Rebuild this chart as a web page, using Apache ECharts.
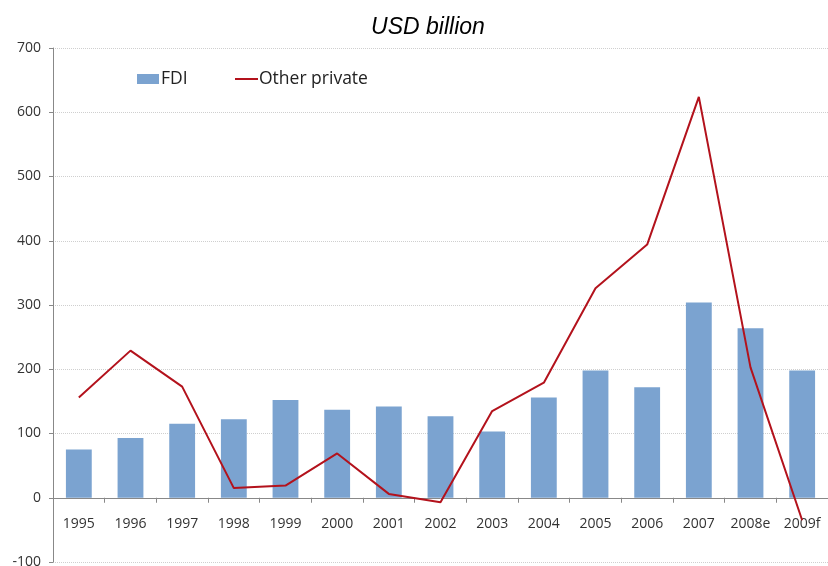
<!DOCTYPE html>
<html>
<head>
<meta charset="utf-8">
<script src="https://cdn.jsdelivr.net/npm/echarts@6/dist/echarts.min.js"></script>
<style>
html,body{margin:0;padding:0;background:#fff;}
#chart{width:828px;height:566px;}
</style>
</head>
<body>
<div id="chart"></div>
<script>
const categories = ['1995','1996','1997','1998','1999','2000','2001','2002','2003','2004','2005','2006','2007','2008e','2009f'];
const fdi = [75, 93, 115, 122, 152, 137, 142, 127, 103, 156, 198, 172, 304, 264, 198];
const otherPrivate = [156, 229, 173, 15, 19, 69, 6, -7, 135, 179, 326, 394, 624, 203, -35];
const yTicks = { min: -100, max: 700, interval: 100 };

const W = 828, H = 566;
const gridTop = 48, gridBottom = 4;
const plotH = H - gridTop - gridBottom;
// shift the category axis up from the bottom of the grid to the zero line
const zeroOffset = plotH * (0 - yTicks.min) / (yTicks.max - yTicks.min);

const chart = echarts.init(document.getElementById('chart'));
chart.setOption({
  animation: false,
  title: {
    text: 'USD billion',
    left: 423, top: 11, textAlign: 'center',
    textStyle: { fontFamily: 'Liberation Sans', fontStyle: 'italic', fontWeight: 'normal', fontSize: 23, color: '#000' }
  },
  legend: [
    {
      left: 132, top: 65, itemWidth: 22, itemHeight: 10, itemGap: 0,
      textStyle: { fontFamily: 'Open Sans', fontSize: 17.5, color: '#222', padding: [0,0,0,-3] },
      data: [{ name: 'FDI', icon: 'rect' }]
    },
    {
      left: 230, top: 65, itemWidth: 23, itemHeight: 2, itemGap: 0,
      textStyle: { fontFamily: 'Open Sans', fontSize: 17.5, color: '#222', padding: [0,0,0,-4] },
      data: [{ name: 'Other private', icon: 'rect' }]
    }
  ],
  grid: { left: 53, right: 0, top: gridTop, bottom: gridBottom, containLabel: false, outerBoundsMode: 'none' },
  xAxis: {
    type: 'category',
    data: categories,
    boundaryGap: true,
    offset: -zeroOffset,
    axisLine: { onZero: false, lineStyle: { color: '#888', width: 1 } },
    axisTick: { show: true, alignWithLabel: false, length: 5, lineStyle: { color: '#888' } },
    axisLabel: { fontFamily: 'Open Sans', fontSize: 14, color: '#333', margin: 19, interval: 0 },
    splitLine: { show: false }
  },
  yAxis: {
    type: 'value',
    min: yTicks.min, max: yTicks.max, interval: yTicks.interval,
    axisLine: { show: true, lineStyle: { color: '#888' } },
    axisTick: { show: true, length: 4, lineStyle: { color: '#888' } },
    axisLabel: { fontFamily: 'Open Sans', fontSize: 14, color: '#333', margin: 12 },
    splitLine: { show: true, lineStyle: { color: '#cfcfcf', type: 'dotted', width: 1 } }
  },
  series: [
    {
      name: 'FDI', type: 'bar', data: fdi, barWidth: '50%',
      itemStyle: { color: '#7BA3D0' }
    },
    {
      name: 'Other private', type: 'line', data: otherPrivate,
      symbol: 'none', showSymbol: false,
      lineStyle: { color: '#B3121C', width: 2 },
      itemStyle: { color: '#B3121C' }
    }
  ]
});
</script>
</body>
</html>
